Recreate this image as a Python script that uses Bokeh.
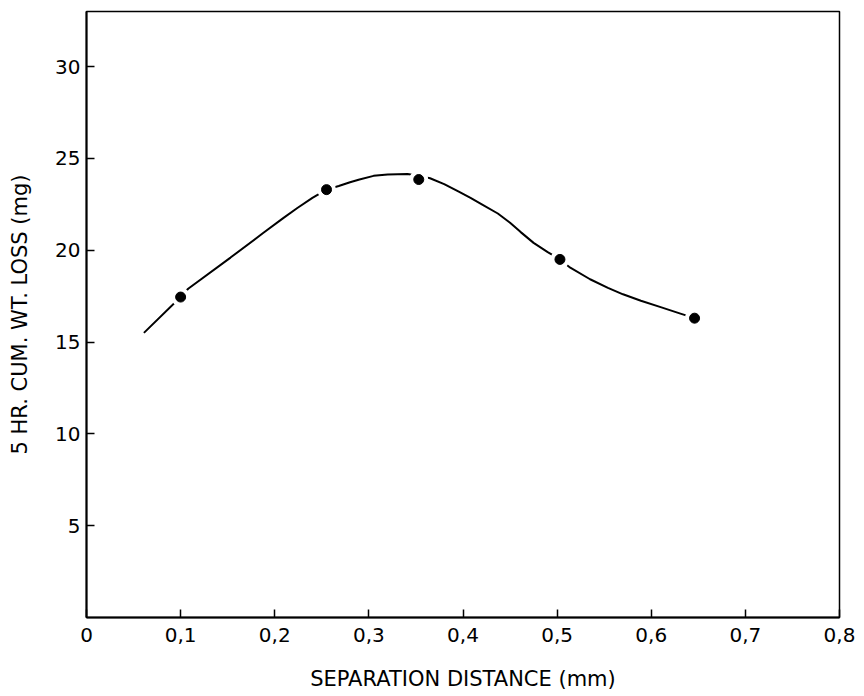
from bokeh.plotting import figure
from bokeh.models import Range1d, FixedTicker
from bokeh.embed import file_html
from bokeh.resources import INLINE

# Measured points: separation distance (mm) vs 5 hr cumulative weight loss (mg)
sep_mm = [0.10, 0.255, 0.353, 0.503, 0.646]
wt_loss_mg = [17.45, 23.3, 23.85, 19.5, 16.3]

# Hand-drawn trend curve through the points
curve_x = [0.061, 0.100, 0.108, 0.153, 0.188, 0.209, 0.224, 0.240, 0.255, 0.268,
           0.280, 0.290, 0.305, 0.320, 0.341, 0.353, 0.365, 0.380, 0.395, 0.408,
           0.420, 0.437, 0.450, 0.461, 0.475, 0.490, 0.503, 0.514, 0.535, 0.554,
           0.570, 0.589, 0.610, 0.631, 0.646]
curve_y = [15.5, 17.45, 17.9, 19.6, 20.95, 21.75, 22.3, 22.85, 23.3, 23.5,
           23.7, 23.85, 24.05, 24.13, 24.15, 24.05, 23.92, 23.6, 23.2, 22.85,
           22.5, 22.0, 21.5, 21.0, 20.4, 19.9, 19.5, 19.05, 18.42, 17.95,
           17.6, 17.25, 16.9, 16.55, 16.3]

x_ticks = [0, 0.1, 0.2, 0.3, 0.4, 0.5, 0.6, 0.7, 0.8]
x_tick_labels = ["0", "0,1", "0,2", "0,3", "0,4", "0,5", "0,6", "0,7", "0,8"]
y_ticks = [5, 10, 15, 20, 25, 30]

FONT = "DejaVu Sans"

p = figure(width=864, height=696, output_backend="svg", toolbar_location=None,
           x_range=Range1d(0, 0.8), y_range=Range1d(0, 33))
p.min_border_left = 86
p.min_border_right = 25
p.min_border_top = 11
p.min_border_bottom = 79
p.background_fill_color = "white"
p.border_fill_color = "white"
p.outline_line_color = "black"
p.outline_line_width = 1.5
p.xgrid.visible = False
p.ygrid.visible = False

for ax in (p.xaxis[0], p.yaxis[0]):
    ax.axis_line_width = 2
    ax.axis_line_color = "black"
    ax.major_tick_in = 8
    ax.major_tick_out = 0
    ax.major_tick_line_width = 1.5
    ax.minor_tick_line_color = None
    ax.major_label_text_font = FONT
    ax.major_label_text_font_size = "20px"
    ax.major_label_text_color = "black"
    ax.axis_label_text_font = FONT
    ax.axis_label_text_font_size = "21px"
    ax.axis_label_text_font_style = "normal"
    ax.axis_label_text_color = "black"

p.xaxis.ticker = FixedTicker(ticks=x_ticks)
p.xaxis.major_label_overrides = {t: s for t, s in zip(x_ticks, x_tick_labels)}
p.xaxis.major_label_standoff = 10
p.xaxis.axis_label = "SEPARATION DISTANCE (mm)"
p.xaxis.axis_label_standoff = 22

p.yaxis.ticker = FixedTicker(ticks=y_ticks)
p.yaxis.major_label_standoff = 6
p.yaxis.axis_label = "5 HR. CUM. WT. LOSS (mg)"
p.yaxis.axis_label_standoff = 20

p.line(curve_x, curve_y, line_color="black", line_width=2)
# white disc leaves a small gap in the curve around each marker
p.scatter(sep_mm, wt_loss_mg, size=19, fill_color="white", line_color=None)
p.scatter(sep_mm, wt_loss_mg, size=10, fill_color="black", line_color="black")

open("out.html", "w").write(file_html(p, INLINE))
